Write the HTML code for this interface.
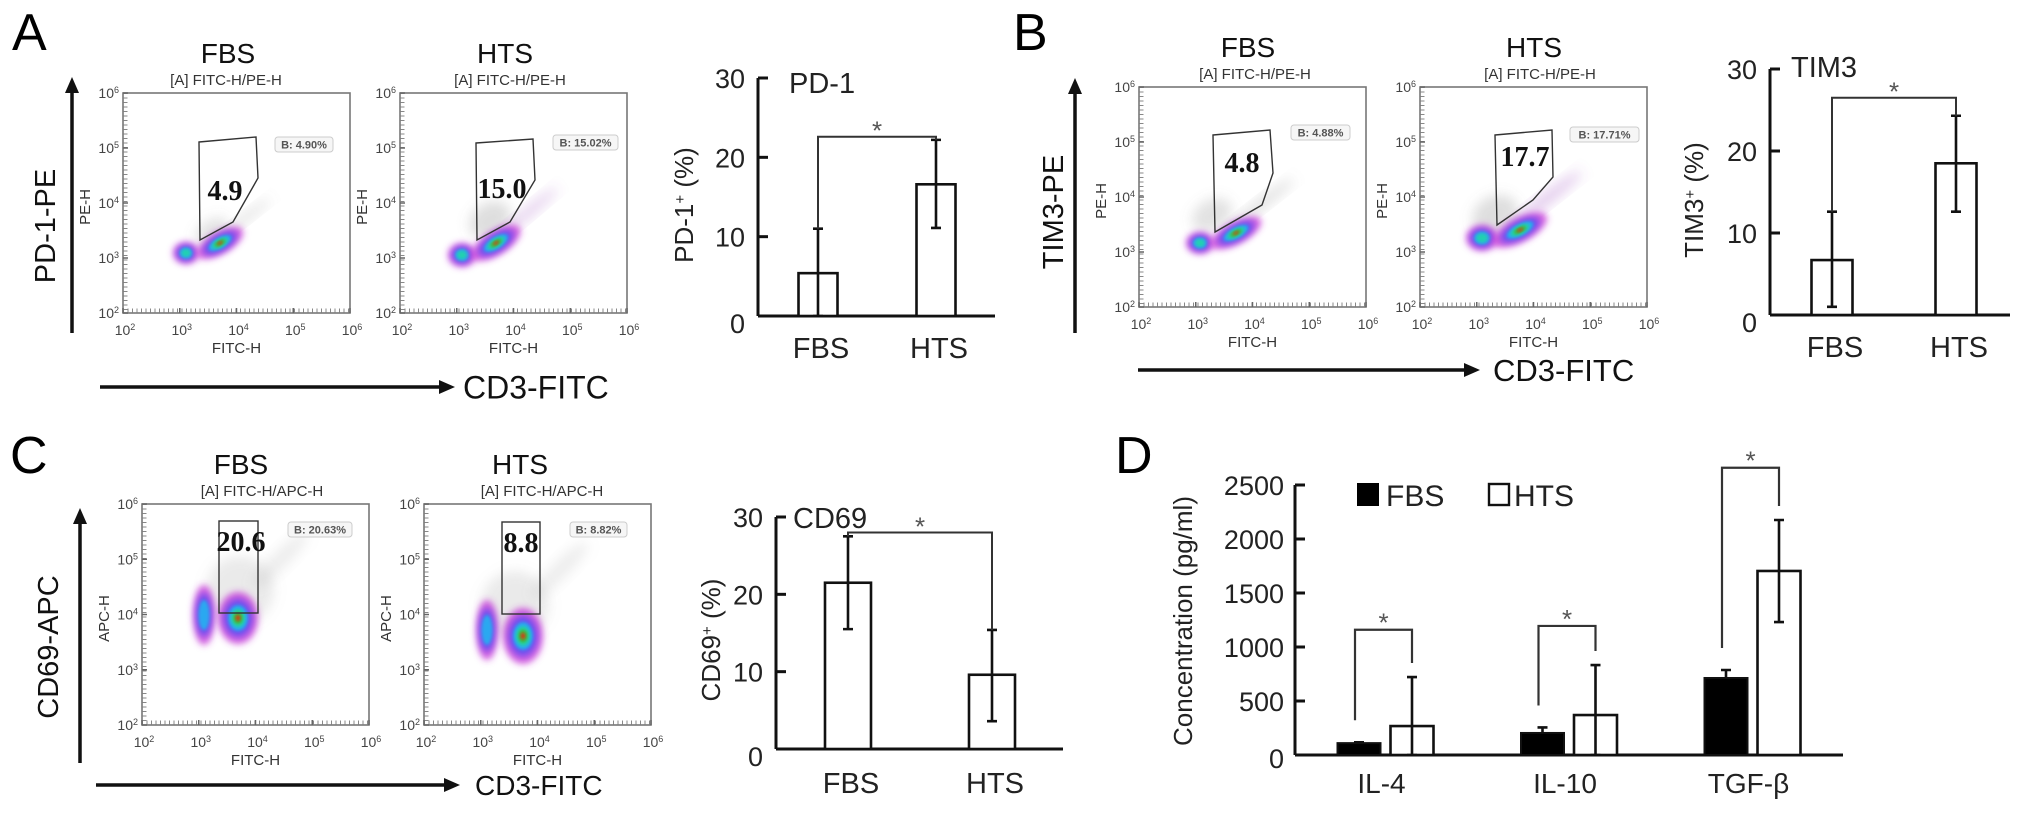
<!DOCTYPE html>
<html><head><meta charset="utf-8"><title>Flow cytometry figure</title>
<style>
html,body{margin:0;padding:0;background:#fff;}
svg{display:block;font-family:"Liberation Sans",Arial,sans-serif;}
</style></head>
<body>
<svg id="fig" width="2032" height="813" viewBox="0 0 2032 813" xmlns="http://www.w3.org/2000/svg">
<defs>
<filter id="b1" x="-50%" y="-50%" width="200%" height="200%"><feGaussianBlur stdDeviation="1.6"/></filter>
<filter id="b2" x="-50%" y="-50%" width="200%" height="200%"><feGaussianBlur stdDeviation="3.5"/></filter>
<filter id="b3" x="-50%" y="-50%" width="200%" height="200%"><feGaussianBlur stdDeviation="6"/></filter>
</defs>
<text x="12" y="50" font-size="52">A</text>
<text x="1013" y="50" font-size="52">B</text>
<text x="10" y="473" font-size="52">C</text>
<text x="1115" y="473" font-size="52">D</text>
</svg>
<script>
const NS='http://www.w3.org/2000/svg';
const svg=document.getElementById('fig');
function mk(tag,attrs,parent){const e=document.createElementNS(NS,tag);for(const k in attrs)e.setAttribute(k,attrs[k]);(parent||svg).appendChild(e);return e;}

/* ---------- bar chart data ---------- */
const barGroups=['FBS','HTS'];
const pd1Mean=[5.4,16.6];
const pd1Lo=[0,11.1];
const pd1Hi=[11.0,22.2];
const pd1Sig=[22.6];
const tim3Mean=[6.7,18.5];
const tim3Lo=[1.0,12.6];
const tim3Hi=[12.6,24.3];
const tim3Sig=[26.5];
const cd69Mean=[21.5,9.6];
const cd69Lo=[15.5,3.6];
const cd69Hi=[27.5,15.4];
const cd69Sig=[28.0];
const pctTicks=[0,10,20,30];

const cytoCats=['IL-4','IL-10','TGF-β'];
const fbsConc=[110,204,713];
const fbsConcHi=[118,255,787];
const htsConc=[268,370,1704];
const htsConcLo=[0,0,1231];
const htsConcHi=[722,833,2176];
const cytoSig=[1160,1195,2660];
const concTicks=[0,500,1000,1500,2000,2500];

/* ---------- flow cytometry plots ---------- */
function sup(t,base,exp){const a=mk('tspan',{},t);a.textContent=base;const b=mk('tspan',{'baseline-shift':'super','font-size':'9'},t);b.textContent=exp;}
function flowPlot(o){
  const g=mk('g',{});
  
  
  const L=o.x,T=o.y,W=227,H=o.h||220,B=T+H,R=L+W;
  const tt=mk('text',{x:o.tx,y:T-30,'font-size':28,'text-anchor':'middle',fill:'#111'},g);tt.textContent=o.title;
  
  
  const st=mk('text',{x:o.sx,y:T-8,'font-size':15,'text-anchor':'middle',fill:'#333'},g);st.textContent=o.sub;
  
  
  o.haze.forEach(h=>{const e=mk('ellipse',{cx:h[0],cy:h[1],rx:h[2]*0.85,ry:h[3]*0.85,transform:`rotate(${h[4]} ${h[0]} ${h[1]})`,fill:h[5]||'#888','fill-opacity':(h[6]||0.3)*0.6,filter:'url(#b3)'},g);
    
    });
  const cols=['#c838d8','#6a4ef0','#2aa8f0','#22d0b0','#38c040','#e03010'];
  const sc=[1,0.72,0.5,0.36,0.24,0.12];
  o.blobs.forEach(b=>{const n=b[5]||6;for(let i=0;i<n;i++){const e=mk('ellipse',{cx:b[0],cy:b[1],rx:b[2]*sc[i],ry:b[3]*sc[i],transform:`rotate(${b[4]} ${b[0]} ${b[1]})`,fill:cols[i],filter:i<2?'url(#b2)':'url(#b1)','fill-opacity':i==0?0.8:1},g);
    
    }});
  const bx=mk('rect',{x:L,y:T,width:W,height:H,fill:'none',stroke:'#777','stroke-width':1.6},g);
  
  
  mk('line',{x1:L+2.5,y1:T,x2:L+2.5,y2:B,stroke:'#888','stroke-width':4,'stroke-dasharray':'1 3.5'},g);
  mk('line',{x1:L,y1:B-2.5,x2:R,y2:B-2.5,stroke:'#888','stroke-width':4,'stroke-dasharray':'1 3.5'},g);
  for(let k=0;k<5;k++){
    const y=B-k*H/4, x=L+k*W/4;
    const ty=mk('text',{x:L-4,y:y+5,'font-size':14,'text-anchor':'end',fill:'#444'},g);sup(ty,'10',String(k+2));
    
    
    const tx=mk('text',{x:x+2,y:B+22,'font-size':14,'text-anchor':'middle',fill:'#444'},g);sup(tx,'10',String(k+2));
    
    
    mk('line',{x1:L,y1:y,x2:L+5,y2:y,stroke:'#666','stroke-width':1.5},g);
    mk('line',{x1:x,y1:B,x2:x,y2:B-5,stroke:'#666','stroke-width':1.5},g);
  }
  const xl=mk('text',{x:L+W/2,y:B+40,'font-size':15,'text-anchor':'middle',fill:'#333'},g);xl.textContent='FITC-H';
  
  
  const yl=mk('text',{x:0,y:0,'font-size':15,'text-anchor':'middle',fill:'#333',transform:`translate(${L-33} ${T+H/2+4}) rotate(-90)`},g);yl.textContent=o.ylab;
  
  
  const gp=o.rect?mk('rect',{x:o.rect[0],y:o.rect[1],width:o.rect[2],height:o.rect[3],fill:'none',stroke:'#333','stroke-width':1.4},g)
                 :mk('polygon',{points:o.gate,fill:'none',stroke:'#333','stroke-width':1.4},g);
  
  
  const gl=mk('text',{x:o.gl[0],y:o.gl[1],'font-size':28,'font-weight':'bold','text-anchor':'middle','font-family':'"Liberation Serif",serif',fill:'#111'},g);gl.textContent=o.glt;
  
  
  const bb=mk('rect',{x:o.bb[0],y:o.bb[1],width:o.bb[2],height:15,rx:3,fill:'#f6f6f6',stroke:'#ccc','stroke-width':1},g);
  
  
  const bt=mk('text',{x:o.bb[0]+o.bb[2]/2,y:o.bb[1]+11.5,'font-size':11,'text-anchor':'middle',fill:'#555','font-weight':'bold'},g);bt.textContent=o.bt;
  
  
}
flowPlot({id:'pd1-fbs-plot',x:123,y:93,tx:228,sx:226,title:'FBS',sub:'[A] FITC-H/PE-H',ylab:'PE-H',
  gate:'199,142 256,137 258,178 233,222 200,240',gl:[225,200],glt:'4.9',bb:[275,137,58],bt:'B: 4.90%',
  haze:[[212,232,22,14,-35,'#777',0.35],[240,222,45,5,-38,'#888',0.4]],
  blobs:[[186,253,13,11,0,4],[220,243,26,11,-30,6]]});
flowPlot({id:'pd1-hts-plot',x:400,y:93,tx:505,sx:510,title:'HTS',sub:'[A] FITC-H/PE-H',ylab:'PE-H',
  gate:'476,143 533,139 535,180 510,222 477,240',gl:[502,198],glt:'15.0',bb:[553,135,65],bt:'B: 15.02%',
  haze:[[490,220,26,20,-35,'#777',0.4],[525,215,50,6,-40,'#a050c0',0.45]],
  blobs:[[462,255,14,12,0,4],[496,243,28,12,-32,6]]});
flowPlot({id:'tim3-fbs-plot',x:1139,y:87,tx:1248,sx:1255,title:'FBS',sub:'[A] FITC-H/PE-H',ylab:'PE-H',
  gate:'1213,135 1270,130 1273,173 1262,205 1215,232',gl:[1242,172],glt:'4.8',bb:[1291,125,59],bt:'B: 4.88%',
  haze:[[1212,215,25,18,-30,'#777',0.35],[1260,205,50,6,-38,'#888',0.45]],
  blobs:[[1200,243,14,11,0,4],[1236,233,28,11,-28,6]]});
flowPlot({id:'tim3-hts-plot',x:1420,y:87,tx:1534,sx:1540,title:'HTS',sub:'[A] FITC-H/PE-H',ylab:'PE-H',
  gate:'1495,135 1552,130 1553,177 1533,200 1497,225',gl:[1525,166],glt:'17.7',bb:[1570,127,69],bt:'B: 17.71%',
  haze:[[1495,215,28,22,-30,'#777',0.4],[1545,200,55,7,-38,'#a050c0',0.5]],
  blobs:[[1482,238,16,13,0,4],[1520,230,30,12,-28,6]]});
flowPlot({id:'cd69-fbs-plot',x:142,y:504,h:221,tx:241,sx:262,title:'FBS',sub:'[A] FITC-H/APC-H',ylab:'APC-H',
  rect:[219,521,39,92],gl:[241,551],glt:'20.6',bb:[288,522,64],bt:'B: 20.63%',
  haze:[[240,590,40,40,-40,'#888',0.3],[280,560,45,10,-45,'#999',0.3]],
  blobs:[[204,615,11,30,0,3],[238,618,20,26,0,6]]});
flowPlot({id:'cd69-hts-plot',x:424,y:504,h:221,tx:520,sx:542,title:'HTS',sub:'[A] FITC-H/APC-H',ylab:'APC-H',
  rect:[502,522,38,92],gl:[521,552],glt:'8.8',bb:[570,522,57],bt:'B: 8.82%',
  haze:[[515,605,40,40,-40,'#888',0.3],[560,570,45,10,-45,'#999',0.3]],
  blobs:[[487,630,11,30,0,3],[523,636,20,28,0,6]]});

function arrowV(x,y1,y2,label,cx,cy,id){
  const l=mk('line',{x1:x,y1:y1+14,x2:x,y2:y2,stroke:'#111','stroke-width':3.5});
  
  
  mk('polygon',{points:`${x},${y1} ${x-7},${y1+16} ${x+7},${y1+16}`,fill:'#111'});
  const t=mk('text',{x:0,y:0,'font-size':29,'text-anchor':'middle',transform:`translate(${cx} ${cy}) rotate(-90)`,fill:'#111'});t.textContent=label;
  
  
}
function arrowH(y,x1,x2,label,tx,fs,id){
  const l=mk('line',{x1:x1,y1:y,x2:x2-14,y2:y,stroke:'#111','stroke-width':3.5});
  
  
  mk('polygon',{points:`${x2},${y} ${x2-16},${y-7} ${x2-16},${y+7}`,fill:'#111'});
  const t=mk('text',{x:tx,y:y+fs*0.36,'font-size':fs,fill:'#111'});t.textContent=label;
  
  
}
arrowV(72,77,333,'PD-1-PE',55,226,'pd1-pe-axis');
arrowH(387,100,455,'CD3-FITC',463,32,'cd3-axis-a');
arrowV(1075,78,333,'TIM3-PE',1063,212,'tim3-pe-axis');
arrowH(370,1138,1480,'CD3-FITC',1493,31,'cd3-axis-b');
arrowV(80,508,763,'CD69-APC',58,647,'cd69-apc-axis');
arrowH(785,96,460,'CD3-FITC',475,28,'cd3-axis-c');

function pctChart(o,mean,lo,hi,sig){
  const g=mk('g',{});
  
  
  const yS=v=>o.y0-(v/30)*(o.y0-o.y30);
  const xS=i=>o.x0+o.off+i*o.sp;
  const ax=mk('line',{x1:o.x0,y1:o.y30,x2:o.x0,y2:o.y0,stroke:'#111','stroke-width':3},g);
  
  
  const xa=mk('line',{x1:o.x0,y1:o.y0,x2:o.xEnd,y2:o.y0,stroke:'#111','stroke-width':3},g);
  
  
  pctTicks.forEach(v=>{
    mk('line',{x1:o.x0,y1:yS(v),x2:o.x0+10,y2:yS(v),stroke:'#111','stroke-width':3},g);
    const t=mk('text',{x:o.x0-13,y:yS(v)+(v==0?17:10),'font-size':27,'text-anchor':'end',fill:'#222'},g);t.textContent=v;
    
    
  });
  mean.forEach((m,i)=>{
    const cx=xS(i);
    const r=mk('rect',{x:cx-o.bw/2,y:yS(m),width:o.bw,height:yS(0)-yS(m),fill:'#fff',stroke:'#111','stroke-width':2.6},g);
    
    
    const e=mk('path',{d:`M${cx},${yS(lo[i])}V${yS(hi[i])}M${cx-5},${yS(hi[i])}H${cx+5}M${cx-5},${yS(lo[i])}H${cx+5}`,stroke:'#111','stroke-width':2.6,fill:'none'},g);
    
    
    const t=mk('text',{x:cx+3,y:o.catY,'font-size':29,'text-anchor':'middle',fill:'#222'},g);t.textContent=barGroups[i];
    
    
  });
  const by=yS(sig[0]);
  const br=mk('path',{d:`M${xS(0)},${yS(hi[0])}V${by}H${xS(1)}V${yS(hi[1])}`,stroke:'#333','stroke-width':2,fill:'none'},g);
  
  
  const s=mk('text',{x:(xS(0)+xS(1))/2,y:by+3,'font-size':26,'text-anchor':'middle',fill:'#555'},g);s.textContent='*';
  
  
  const ti=mk('text',{x:o.tiX,y:o.tiY,'font-size':29,fill:'#222'},g);ti.textContent=o.title;
  
  
  const yl=mk('text',{x:0,y:0,'font-size':26,'text-anchor':'middle',fill:'#222',transform:`translate(${o.ylX} ${o.ylY}) rotate(-90)`},g);
  const a=mk('tspan',{},yl);a.textContent=o.ylab;
  const b=mk('tspan',{'baseline-shift':'super','font-size':15},yl);b.textContent='+';
  const c=mk('tspan',{},yl);c.textContent=' (%)';
  
  
}
pctChart({id:'pd1-bar-chart',x0:758,y0:316,y30:78,off:60,sp:118,bw:39,xEnd:995,catY:358,title:'PD-1',tiX:789,tiY:93,ylab:'PD-1',ylX:693,ylY:205},pd1Mean,pd1Lo,pd1Hi,pd1Sig);
pctChart({id:'tim3-bar-chart',x0:1770,y0:315,y30:69,off:62,sp:124,bw:41,xEnd:2010,catY:357,title:'TIM3',tiX:1791,tiY:77,ylab:'TIM3',ylX:1703,ylY:200},tim3Mean,tim3Lo,tim3Hi,tim3Sig);
pctChart({id:'cd69-bar-chart',x0:776,y0:749,y30:517,off:72,sp:144,bw:46,xEnd:1063,catY:793,title:'CD69',tiX:793,tiY:528,ylab:'CD69',ylX:720,ylY:640},cd69Mean,cd69Lo,cd69Hi,cd69Sig);

(function(){
  const g=mk('g',{});
  
  
  const X0=1295,Y0=755,Y2500=485,XE=1843;
  const yS=v=>Y0-(v/2500)*(Y0-Y2500);
  const fx=i=>X0+64+i*183.5, hx=i=>fx(i)+53, BW=43;
  const ax=mk('line',{x1:X0,y1:Y2500,x2:X0,y2:Y0,stroke:'#111','stroke-width':3},g);
  
  
  const xa=mk('line',{x1:X0,y1:Y0,x2:XE,y2:Y0,stroke:'#111','stroke-width':3},g);
  
  
  concTicks.forEach(v=>{
    mk('line',{x1:X0,y1:yS(v),x2:X0+10,y2:yS(v),stroke:'#111','stroke-width':3},g);
    const t=mk('text',{x:1284,y:yS(v)+(v==0?13:10),'font-size':27,'text-anchor':'end',fill:'#222'},g);t.textContent=v;
    
    
  });
  cytoCats.forEach((c,i)=>{
    const f=mk('rect',{x:fx(i)-BW/2,y:yS(fbsConc[i]),width:BW,height:Y0-yS(fbsConc[i]),fill:'#000',stroke:'#111','stroke-width':2},g);
    
    
    const fe=mk('path',{d:`M${fx(i)},${yS(fbsConc[i])}V${yS(fbsConcHi[i])}M${fx(i)-5},${yS(fbsConcHi[i])}H${fx(i)+5}`,stroke:'#111','stroke-width':2.6},g);
    
    
    const h=mk('rect',{x:hx(i)-BW/2,y:yS(htsConc[i]),width:BW,height:Y0-yS(htsConc[i]),fill:'#fff',stroke:'#111','stroke-width':2.6},g);
    
    
    const he=mk('path',{d:`M${hx(i)},${yS(htsConcLo[i])}V${yS(htsConcHi[i])}M${hx(i)-5},${yS(htsConcHi[i])}H${hx(i)+5}M${hx(i)-5},${yS(htsConcLo[i])}H${hx(i)+5}`,stroke:'#111','stroke-width':2.6},g);
    
    
    const by=yS(cytoSig[i]);
    const lx=fx(i)-4;
    const br=mk('path',{d:`M${lx},${yS(fbsConcHi[i])-22}V${by}H${hx(i)}V${yS(htsConcHi[i])-14}`,stroke:'#333','stroke-width':2.2,fill:'none'},g);
    
    
    const s=mk('text',{x:(lx+hx(i))/2,y:by+2,'font-size':26,'text-anchor':'middle',fill:'#555'},g);s.textContent='*';
    
    
    const t=mk('text',{x:(fx(i)+hx(i))/2-4,y:793,'font-size':28,'text-anchor':'middle',fill:'#222'},g);t.textContent=c;
    
    
  });
  const yl=mk('text',{x:0,y:0,'font-size':26,'text-anchor':'middle',fill:'#222',transform:'translate(1192 621) rotate(-90)'},g);yl.textContent='Concentration (pg/ml)';
  
  
  const l1=mk('rect',{x:1357,y:483,width:22,height:23,fill:'#000'},g);
  
  
  const t1=mk('text',{x:1386,y:506,'font-size':30,fill:'#222'},g);t1.textContent='FBS';
  
  
  const l2=mk('rect',{x:1489,y:484,width:20,height:21,fill:'#fff',stroke:'#111','stroke-width':2.4},g);
  
  
  const t2=mk('text',{x:1514,y:506,'font-size':30,fill:'#222'},g);t2.textContent='HTS';
  
  
})();
</script>
</body></html>
